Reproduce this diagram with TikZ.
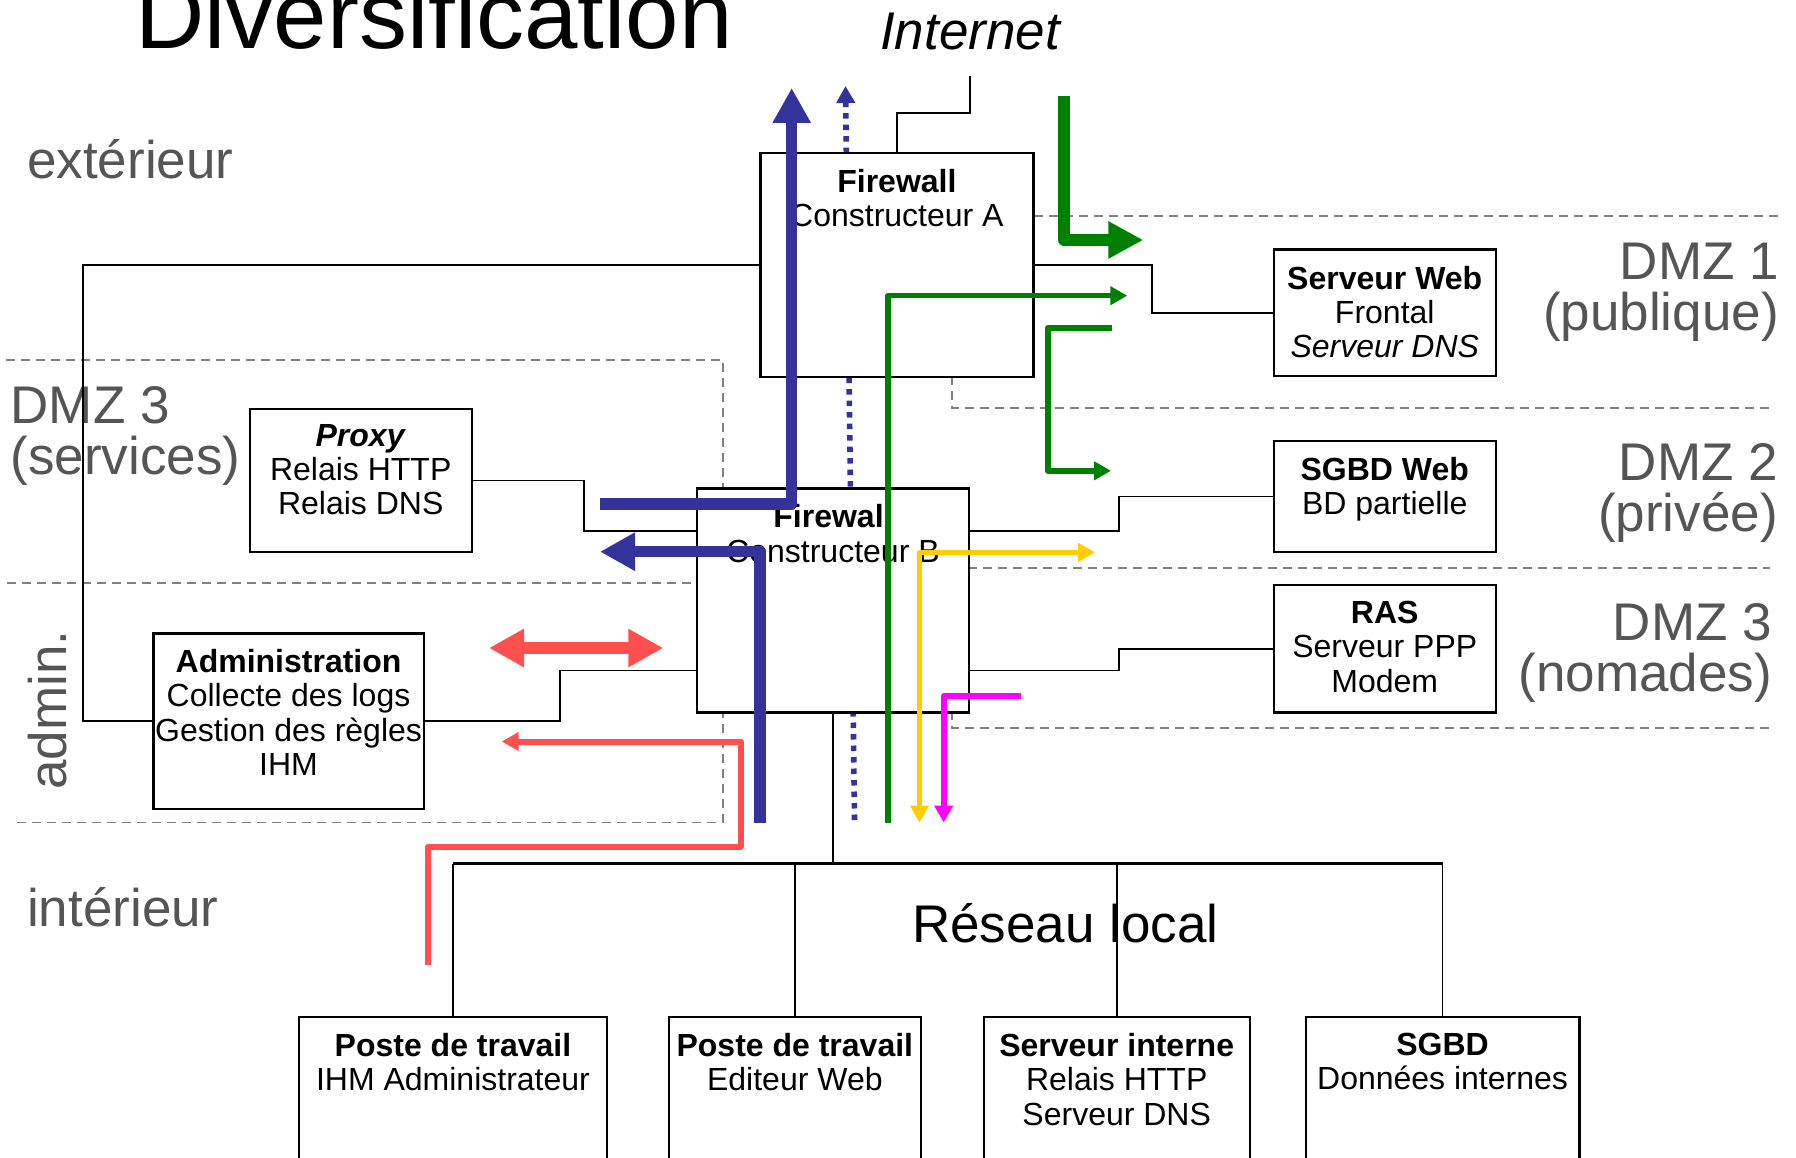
\documentclass[tikz,border=0pt]{standalone}
\usepackage{fontspec}
\setmainfont{Liberation Sans}
\usetikzlibrary{arrows.meta,calc}

\definecolor{zonegrey}{HTML}{555555}
\definecolor{dashgrey}{HTML}{808080}
\definecolor{flowblue}{HTML}{333399}
\definecolor{flowgreen}{HTML}{008000}
\definecolor{flowyellow}{HTML}{FFCC00}
\definecolor{flowmagenta}{HTML}{FF00FF}
\definecolor{flowred}{HTML}{FF5050}

\begin{document}
\begin{tikzpicture}[x=1pt,y=-1pt,
  box/.style={draw=black, line width=2.2pt, fill=white, inner sep=0pt, anchor=north west},
  boxtext/.style={anchor=north, align=center, inner sep=0pt,
    font=\fontsize{32}{34.3}\selectfont},
  link/.style={draw=black, line width=1.8pt},
  bus/.style={draw=black, line width=2.6pt},
  zone/.style={draw=dashgrey, line width=1.7pt, dash pattern=on 9pt off 6pt},
  zonelabel/.style={text=zonegrey, inner sep=0pt, font=\fontsize{53}{51}\selectfont},
  bigtip/.style={-{Triangle[length=35pt,width=36pt]}},
  smalltip/.style={-{Triangle[length=17pt,width=18pt]}},
  wideflow/.style={line width=11.5pt, line join=round},
  thinflow/.style={line width=5.6pt, line join=round},
]
\useasboundingbox (0,0) rectangle (1796,1158);

% ---- titles and zone names ----
\node[anchor=base west, inner sep=0pt, font=\fontsize{96}{96}\selectfont] (title) at (135,49) {Diversification};
\node[anchor=base west, inner sep=0pt, font=\fontsize{53}{53}\selectfont\itshape] (internet) at (880,50) {Internet};
\node[zonelabel, anchor=base west] (ext) at (27,178.7) {extérieur};
\node[zonelabel, anchor=base west] (int) at (27,926.6) {intérieur};
\node[zonelabel, anchor=north west, align=left] (dmzsrv) at (10.5,386) {DMZ 3\\(services)};
\node[zonelabel, anchor=base west, rotate=90] (adm) at (66.4,790) {admin.};
\node[zonelabel, anchor=north east, align=right] (dmz1) at (1779,242.6) {DMZ 1\\(publique)};
\node[zonelabel, anchor=north east, align=right] (dmz2) at (1778,443) {DMZ 2\\(privée)};
\node[zonelabel, anchor=north east, align=right] (dmz3) at (1772,603) {DMZ 3\\(nomades)};

% ---- zone borders ----
\draw[zone] (1034,216) -- (1783,216);
\draw[zone] (6,360) -- (722.7,360) -- (722.7,487.3);
\draw[zone] (951.7,375.7) -- (951.7,407.7) -- (1770,407.7);
\draw[zone] (968,567.7) -- (1770,567.7);
\draw[zone] (7,583.3) -- (695.7,583.3);
\draw[zone] (951.7,711.3) -- (951.7,727.7) -- (1770,727.7);
\draw[zone] (17,822.5) -- (722.7,822.5) -- (722.7,711.3);

% ---- dotted flow, passing under the firewalls ----
\coordinate (dotS) at (854.5,820);
\coordinate (dotE) at (845.5,86);
\draw[flowblue, line width=5.6pt, dash pattern=on 5.5pt off 6pt, smalltip] (dotS) -- (dotE);

% ---- equipment ----
\node[box, minimum width=273pt, minimum height=224pt] (fwA) at (759.3,151.7) {};
\node[box, minimum width=272.3pt, minimum height=224pt] (fwB) at (695.7,487.3) {};
\node[box, minimum width=222.3pt, minimum height=143.2pt] (proxy) at (248.5,407.8) {};
\node[box, minimum width=270.3pt, minimum height=175.2pt] (admin) at (152.3,632.3) {};
\node[box, minimum width=222.3pt, minimum height=126pt] (web) at (1272.5,248.5) {};
\node[box, minimum width=222.3pt, minimum height=111.2pt] (sgbdw) at (1272.5,439.8) {};
\node[box, minimum width=222.3pt, minimum height=127.3pt] (ras) at (1272.5,584) {};
\node[box, minimum width=308.2pt, minimum height=220pt] (post1) at (297.8,1016) {};
\node[box, minimum width=251.9pt, minimum height=220pt] (post2) at (667.8,1016) {};
\node[box, minimum width=265.8pt, minimum height=220pt] (srvint) at (982.7,1016) {};
\node[box, minimum width=273.7pt, minimum height=220pt] (sgbd) at (1304.6,1016) {};

\node[boxtext] (fwAt) at (fwA.north |- 0,169) {\textbf{Firewall}\\Constructeur A};
\node[boxtext] (fwBt) at (fwB.north |- 0,504.4) {\textbf{Firewall}\\Constructeur B};
\node[boxtext] (proxyt) at (proxy.north |- 0,423.8) {\textbf{\itshape Proxy}\\Relais HTTP\\Relais DNS};
\node[boxtext] (admint) at (admin.north |- 0,649.1) {\textbf{Administration}\\Collecte des logs\\Gestion des règles\\IHM};
\node[boxtext] (webt) at (web.north |- 0,265.7) {\textbf{Serveur Web}\\Frontal\\\textit{Serveur DNS}};
\node[boxtext] (sgbdwt) at (sgbdw.north |- 0,457.1) {\textbf{SGBD Web}\\BD partielle};
\node[boxtext] (rast) at (ras.north |- 0,601.1) {\textbf{RAS}\\Serveur PPP\\Modem};
\node[boxtext] (post1t) at (post1.north |- 0,1033.1) {\textbf{Poste de travail}\\IHM Administrateur};
\node[boxtext] (post2t) at (post2.north |- 0,1033.1) {\textbf{Poste de travail}\\Editeur Web};
\node[boxtext] (srvintt) at (srvint.north |- 0,1033.1) {\textbf{Serveur interne}\\Relais HTTP\\Serveur DNS};
\node[boxtext] (sgbdt) at (sgbd.north |- 0,1033.1) {\textbf{SGBD}\\Données internes};

\node[anchor=base west, inner sep=0pt, font=\fontsize{53}{53}\selectfont] (lan) at (912,942.6) {Réseau local};

% ---- wiring ----
\coordinate (inet) at (970,75.7);
\coordinate (trunk) at (82.6,0);
\coordinate (busy) at (0,863.6);
\coordinate (fwBp1) at ($(fwB.north west)+(0,43.7)$);
\coordinate (fwBp2) at ($(fwB.south west)+(0,-43)$);
\coordinate (fwBp3) at ($(fwB.north east)+(0,43.7)$);
\coordinate (fwBp4) at ($(fwB.south east)+(0,-43)$);

\draw[link] (inet) |- ($(fwA.north)+(0,-39)$) -- (fwA.north);
\draw[link] (fwA.west) -| (trunk |- admin.west) -- (admin.west);
\draw[link] (fwA.east) -| ($(web.west)+(-120.8,0)$) -- (web.west);
\draw[link] (proxy.east) -| ($(fwBp1)+(-111.4,0)$) -- (fwBp1);
\draw[link] (admin.east) -| ($(fwBp2)+(-135.7,0)$) -- (fwBp2);
\draw[link] (fwBp3) -| ($(sgbdw.west)+(-153.5,0)$) -- (sgbdw.west);
\draw[link] (fwBp4) -| ($(ras.west)+(-153.5,0)$) -- (ras.west);
\draw[link] (fwB.south) -- (fwB.south |- busy);
\draw[bus] (post1.north |- busy) -- (sgbd.north |- busy);
\draw[link] (post1.north |- busy) -- (post1.north);
\draw[link] (post2.north |- busy) -- (post2.north);
\draw[link] (srvint.north |- busy) -- (srvint.north);
\draw[link] (sgbd.north |- busy) -- (sgbd.north);

% ---- flows ----
\coordinate (bUpS) at (600,504);
\coordinate (bUpE) at (791.7,88);
\draw[flowblue, wideflow, bigtip] (bUpS) -| (bUpE);

\coordinate (bBackS) at (760,822.5);
\coordinate (bBackE) at (600,551.7);
\draw[flowblue, wideflow, bigtip] (bBackS) |- (bBackE);

\coordinate (gBigS) at (1064,96);
\coordinate (gBigE) at (1143.3,240);
\draw[flowgreen, wideflow, -{Triangle[length=35pt,width=35pt]}] (gBigS) |- (gBigE);

\coordinate (gOneS) at (887.7,822.5);
\coordinate (gOneE) at (1127.3,295.7);
\draw[flowgreen, thinflow, smalltip] (gOneS) |- (gOneE);

\coordinate (gTwoS) at (1112.3,327.7);
\coordinate (gTwoE) at (1111,470.8);
\draw[flowgreen, thinflow, smalltip] (gTwoS) -- (1047.7,327.7) -- (1047.7,470.8) -- (gTwoE);

\coordinate (yS) at (919.5,822.5);
\coordinate (yE) at (1095,552.3);
\draw[flowyellow, thinflow, {Triangle[length=17pt,width=18pt]}-{Triangle[length=17pt,width=18pt]}] (yS) |- (yE);

\coordinate (mS) at (1021,695.7);
\coordinate (mE) at (943.7,822.5);
\draw[flowmagenta, thinflow, smalltip] (mS) -| (mE);

\coordinate (rL) at (489,648);
\coordinate (rR) at (663.3,648);
\draw[flowred, wideflow, {Triangle[length=35pt,width=36pt]}-{Triangle[length=35pt,width=36pt]}] (rL) -- (rR);

\coordinate (rS) at (428.4,964.5);
\coordinate (rE) at (501.7,741.5);
\draw[flowred, line width=6pt, line join=round, smalltip] (rS) -- (428.4,846.5) -- (741,846.5) -- (741,741.5) -- (rE);
\end{tikzpicture}
\end{document}
